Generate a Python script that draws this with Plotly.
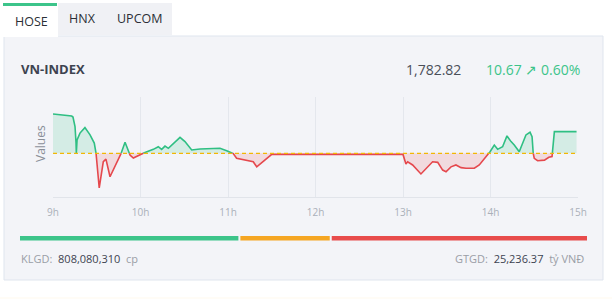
import plotly.graph_objects as go
import pandas as pd
import numpy as np

# ---------------- data ----------------
day = "2025-01-02 "
times = ["09:00:00", "09:06:00", "09:12:48", "09:13:42", "09:15:06", "09:15:48", "09:16:00", "09:16:30",
         "09:18:30", "09:21:54", "09:25:24", "09:28:18", "09:29:30", "09:31:42", "09:34:30", "09:36:18",
         "09:39:06", "09:42:30", "09:45:54", "09:49:24", "09:52:48", "09:55:06", "09:59:42", "10:03:06",
         "10:08:48", "10:12:12", "10:14:30", "10:16:48", "10:19:06", "10:22:30", "10:27:06", "10:30:30",
         "10:35:06", "10:40:48", "10:54:30", "10:59:06", "11:03:36", "11:05:54", "11:12:48", "11:17:18",
         "11:19:42", "11:24:12", "11:28:48", "11:30:00", "13:00:00", "13:00:54", "13:02:00", "13:03:12",
         "13:06:36", "13:12:18", "13:15:48", "13:20:18", "13:23:48", "13:27:12", "13:29:30", "13:32:54",
         "13:36:18", "13:39:48", "13:43:12", "13:48:54", "13:52:18", "13:56:54", "13:59:42", "14:02:36",
         "14:04:54", "14:08:18", "14:11:18", "14:14:06", "14:16:18", "14:19:42", "14:22:06", "14:24:18",
         "14:27:06", "14:28:30", "14:29:18", "14:30:00", "14:32:18", "14:37:00", "14:40:00", "14:42:12",
         "14:43:00", "14:43:48", "14:59:00"]
index_values = [1791.5, 1791.0, 1790.5, 1790.0, 1785.3, 1777.2, 1772.3, 1778.7,
                1782.1, 1784.8, 1781.2, 1777.2, 1772.3, 1755.1, 1768.0, 1769.3,
                1760.6, 1765.5, 1770.5, 1777.6, 1771.3, 1769.8, 1771.3, 1772.6,
                1774.1, 1775.4, 1774.1, 1775.7, 1774.6, 1777.1, 1780.0, 1777.9,
                1773.8, 1774.3, 1774.6, 1773.4, 1772.0, 1769.7, 1768.5, 1768.0,
                1765.5, 1768.0, 1770.5, 1771.6, 1771.6, 1768.8, 1766.9, 1768.0,
                1766.4, 1762.0, 1764.8, 1768.0, 1767.7, 1763.9, 1763.1, 1765.5,
                1766.4, 1765.1, 1764.8, 1764.8, 1766.4, 1770.5, 1772.9, 1776.2,
                1774.1, 1775.4, 1780.7, 1777.9, 1776.2, 1772.9, 1777.1, 1781.2,
                1782.5, 1780.3, 1772.1, 1769.7, 1768.5, 1768.8, 1770.2, 1770.5,
                1777.0, 1782.82, 1782.82]
reference_value = 1772.15
last_price = "1,782.82"
change_text = "10.67 ↗ 0.60%"
tick_hours = ["09:00", "10:00", "11:00", "12:00", "13:00", "14:00", "15:00"]
tick_labels = ["9h", "10h", "11h", "12h", "13h", "14h", "15h"]
breadth_counts = [154, 63, 180]          # advancing, unchanged, declining
breadth_colors = ["#3cc48a", "#f5a623", "#e84c4c"]
volume_text = "808,080,310"
value_text = "25,236.37"
tabs = ["HOSE", "HNX", "UPCOM"]

# ---------------- geometry helpers ----------------
W, H = 612, 299
PL, PR, PT, PB = 53, 578, 97, 197


def px(x):
    return (x - PL) / (PR - PL)


def py(y):
    return (PB - y) / (PB - PT)


# ---------------- build split series ----------------
ts = pd.to_datetime([day + t for t in times])
tn = ts.astype("int64").to_numpy() / 1e9
v = np.array(index_values, dtype=float)
ref = reference_value
xs, ys = [tn[0]], [v[0]]
for i in range(1, len(v)):
    a, b = v[i - 1] - ref, v[i] - ref
    if a * b < 0:
        f = a / (a - b)
        xs.append(tn[i - 1] + f * (tn[i] - tn[i - 1]))
        ys.append(ref)
    xs.append(tn[i])
    ys.append(v[i])
xs = pd.to_datetime(np.array(xs), unit="s")
ys = np.array(ys)

green_line = [y if y >= ref else None for y in ys]
red_line = [y if y <= ref else None for y in ys]
green_fill = np.maximum(ys, ref)
red_fill = np.minimum(ys, ref)
base = np.full(len(ys), ref)

GREEN = "#2fbf83"
RED = "#e5484d"

fig = go.Figure()
fig.add_trace(go.Scatter(x=xs, y=base, mode="lines", line=dict(width=0), hoverinfo="skip", showlegend=False))
fig.add_trace(go.Scatter(x=xs, y=green_fill, mode="lines", line=dict(width=0), fill="tonexty",
                         fillcolor="rgba(60,196,138,0.17)", hoverinfo="skip", showlegend=False))
fig.add_trace(go.Scatter(x=xs, y=base, mode="lines", line=dict(width=0), hoverinfo="skip", showlegend=False))
fig.add_trace(go.Scatter(x=xs, y=red_fill, mode="lines", line=dict(width=0), fill="tonexty",
                         fillcolor="rgba(232,76,76,0.15)", hoverinfo="skip", showlegend=False))
fig.add_trace(go.Scatter(x=xs, y=green_line, mode="lines", line=dict(color=GREEN, width=1.6),
                         connectgaps=False, hoverinfo="skip", showlegend=False))
fig.add_trace(go.Scatter(x=xs, y=red_line, mode="lines", line=dict(color=RED, width=1.6),
                         connectgaps=False, hoverinfo="skip", showlegend=False))
fig.add_trace(go.Scatter(x=[day + tick_hours[0], day + tick_hours[-1]], y=[ref, ref], mode="lines",
                         line=dict(color="#f2b705", width=1.2, dash="4px,3px"), hoverinfo="skip",
                         showlegend=False))

shapes = []
# card
shapes.append(dict(type="rect", xref="paper", yref="paper", x0=px(4), x1=px(603), y0=py(36), y1=py(280),
                   fillcolor="#f3f4f8", line=dict(color="#dfe5ee", width=1), layer="below"))
# tab strip
shapes.append(dict(type="rect", xref="paper", yref="paper", x0=px(58), x1=px(172), y0=py(3), y1=py(35),
                   fillcolor="#f0f1f5", line=dict(width=0), layer="below"))
# active tab
shapes.append(dict(type="rect", xref="paper", yref="paper", x0=px(2), x1=px(58), y0=py(3), y1=py(37),
                   fillcolor="#ffffff", line=dict(width=0), layer="below"))
shapes.append(dict(type="rect", xref="paper", yref="paper", x0=px(3), x1=px(57), y0=py(3), y1=py(6),
                   fillcolor="#3cc48a", line=dict(width=0), layer="below"))
# bottom pale strip
shapes.append(dict(type="rect", xref="paper", yref="paper", x0=px(0), x1=px(612), y0=py(297), y1=py(299),
                   fillcolor="#fffcf6", line=dict(width=0), layer="below"))
# breadth bar
total = sum(breadth_counts)
bx0, bx1, gap = 20, 587, 2
avail = bx1 - bx0 - gap * (len(breadth_counts) - 1)
cur = bx0
for cnt, col in zip(breadth_counts, breadth_colors):
    w = avail * cnt / total
    shapes.append(dict(type="rect", xref="paper", yref="paper", x0=px(cur), x1=px(cur + w),
                       y0=py(236), y1=py(240.5), fillcolor=col, line=dict(width=0), layer="below"))
    cur += w + gap

FONT = "Open Sans"
ann = []
tab_x = [31, 82, 139]
tab_y = [21, 18, 18]
for name, x, y in zip(tabs, tab_x, tab_y):
    ann.append(dict(text=name, x=px(x), y=py(y), xref="paper", yref="paper", showarrow=False,
                    xanchor="center", yanchor="middle", font=dict(family=FONT, size=12.5, color="#2b2f36")))
ann.append(dict(text="<b>VN-INDEX</b>", x=px(19), y=py(69), xref="paper", yref="paper", showarrow=False,
                xanchor="left", yanchor="middle", font=dict(family=FONT, size=13, color="#3d4350")))
ann.append(dict(text=last_price, x=px(463), y=py(69), xref="paper", yref="paper", showarrow=False,
                xanchor="right", yanchor="middle", font=dict(family=FONT, size=14, color="#4a4f58")))
ann.append(dict(text=change_text, x=px(582), y=py(69), xref="paper", yref="paper", showarrow=False,
                xanchor="right", yanchor="middle", font=dict(family=FONT, size=14, color="#3cc48a")))
ann.append(dict(text="Values", x=px(40), y=py(144), xref="paper", yref="paper", showarrow=False,
                textangle=-90, xanchor="center", yanchor="middle",
                font=dict(family=FONT, size=12, color="#8a8f98")))
ann.append(dict(text="<span style='color:#9a9ea6'>KLGD:</span>  " + volume_text +
                "  <span style='color:#9a9ea6'>cp</span>",
                x=px(19), y=py(258), xref="paper", yref="paper", showarrow=False,
                xanchor="left", yanchor="middle", font=dict(family=FONT, size=11, color="#3d4350")))
ann.append(dict(text="<span style='color:#9a9ea6'>GTGD:</span>  " + value_text +
                "  <span style='color:#9a9ea6'>tỷ VNĐ</span>",
                x=px(586), y=py(258), xref="paper", yref="paper", showarrow=False,
                xanchor="right", yanchor="middle", font=dict(family=FONT, size=11, color="#3d4350")))

fig.update_layout(
    width=W, height=H,
    margin=dict(l=PL, r=W - PR, t=PT, b=H - PB, pad=0),
    paper_bgcolor="#ffffff", plot_bgcolor="rgba(0,0,0,0)",
    shapes=shapes, annotations=ann, showlegend=False,
    xaxis=dict(type="date", range=[day + tick_hours[0], day + tick_hours[-1]],
               tickvals=[day + t for t in tick_hours], ticktext=tick_labels,
               showgrid=True, gridcolor="#e4e7ed", gridwidth=1, zeroline=False,
               showline=True, linecolor="#e1e4ea", linewidth=1, ticks="",
               ticklabelstandoff=6,
               tickfont=dict(family=FONT, size=10, color="#aab0b8"), fixedrange=True),
    yaxis=dict(range=[ref - 21.5, ref + 27.7], showgrid=False, showticklabels=False, zeroline=False,
               showline=False, fixedrange=True),
)

fig.write_html("out.html", config={"displayModeBar": False})
